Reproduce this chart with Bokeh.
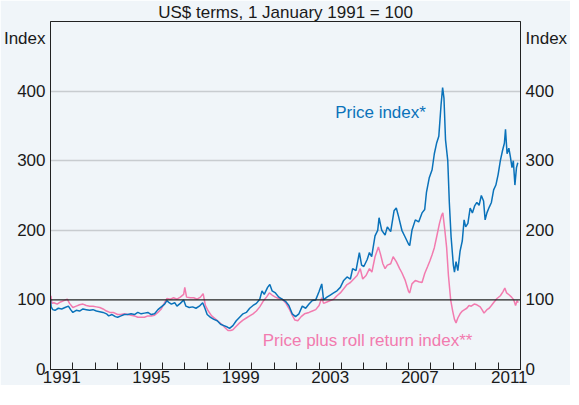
from bokeh.plotting import figure
from bokeh.models import FixedTicker, LinearAxis, Span, Label, Range1d
from bokeh.embed import file_html
from bokeh.resources import INLINE

# ---- data (decimal years, index values) ----
price_t = [1991.00, 1991.03, 1991.10, 1991.20, 1991.35, 1991.50, 1991.65, 1991.80, 1991.90,
           1992.00, 1992.15, 1992.30, 1992.45, 1992.60, 1992.75, 1992.90, 1993.05, 1993.20,
           1993.35, 1993.50, 1993.60, 1993.75, 1993.90, 1994.00, 1994.15, 1994.30, 1994.45,
           1994.60, 1994.75, 1994.90, 1995.05, 1995.20, 1995.35, 1995.50, 1995.65, 1995.80,
           1995.95, 1996.10, 1996.20, 1996.30, 1996.40, 1996.55, 1996.65, 1996.80, 1996.95,
           1997.05, 1997.20, 1997.35, 1997.50, 1997.65, 1997.80, 1997.90, 1998.00, 1998.15,
           1998.30, 1998.45, 1998.60, 1998.75, 1998.90, 1999.00, 1999.15, 1999.30, 1999.45,
           1999.60, 1999.75, 1999.90, 2000.05, 2000.20, 2000.35, 2000.45, 2000.55, 2000.70,
           2000.80, 2000.90, 2001.05, 2001.20, 2001.35, 2001.50, 2001.65, 2001.80, 2001.95,
           2002.10, 2002.25, 2002.40, 2002.55, 2002.70, 2002.85, 2003.00, 2003.12, 2003.20,
           2003.35, 2003.50, 2003.65, 2003.80, 2003.95, 2004.10, 2004.25, 2004.40, 2004.50,
           2004.65, 2004.80, 2004.90, 2005.00, 2005.15, 2005.25, 2005.35, 2005.50, 2005.62,
           2005.68, 2005.80, 2005.95, 2006.05, 2006.20, 2006.35, 2006.45, 2006.55, 2006.70,
           2006.85, 2007.00, 2007.05, 2007.15, 2007.30, 2007.45, 2007.60, 2007.72, 2007.80,
           2007.92, 2008.05, 2008.15, 2008.25, 2008.35, 2008.45, 2008.52, 2008.58, 2008.65,
           2008.75, 2008.82, 2008.90, 2009.00, 2009.05, 2009.12, 2009.20, 2009.30, 2009.40,
           2009.48, 2009.55, 2009.65, 2009.75, 2009.85, 2009.95, 2010.05, 2010.15, 2010.25,
           2010.35, 2010.42, 2010.50, 2010.60, 2010.70, 2010.80, 2010.90, 2011.00, 2011.10,
           2011.20, 2011.28, 2011.33, 2011.40, 2011.48, 2011.55, 2011.62, 2011.68, 2011.75,
           2011.82, 2011.88]
price_v = [100, 90, 86, 85, 88, 87, 89, 91, 86,
           82, 85, 84, 87, 86, 85, 86, 84, 83,
           82, 80, 77, 79, 76, 75, 77, 79, 79,
           80, 79, 82, 80, 81, 82, 79, 80, 86,
           90, 94, 99, 96, 94, 96, 91, 95, 100,
           91, 89, 90, 88, 91, 96, 88, 79, 75,
           72, 70, 65, 63, 61, 59, 63, 70, 75,
           80, 82, 88, 92, 95, 101, 113, 108, 118,
           122, 113, 110, 104, 101, 98, 92, 80, 76,
           80, 91, 88, 94, 99, 100, 112, 123, 100,
           104, 107, 110, 113, 118, 128, 133, 130, 145,
           142, 168, 150, 148, 158, 168, 162, 192, 200,
           218, 200, 193, 205, 198, 228, 232, 220, 200,
           190, 180, 178, 200, 215, 212, 225, 230, 255,
           275, 287, 310, 325, 335, 380, 405, 390, 330,
           300, 240, 190, 150, 140, 155, 142, 170, 185,
           215, 205, 210, 232, 225, 235, 240, 236, 250,
           242, 215, 225, 233, 240, 258, 265, 280, 300,
           315, 325, 345, 310, 318, 305, 290, 300, 265,
           290, 297]

roll_t = [1991.00, 1991.02, 1991.06, 1991.15, 1991.30, 1991.45, 1991.60, 1991.75, 1991.85,
          1992.00, 1992.15, 1992.30, 1992.45, 1992.60, 1992.75, 1992.90, 1993.05, 1993.20,
          1993.35, 1993.50, 1993.65, 1993.80, 1994.00, 1994.15, 1994.30, 1994.45, 1994.60,
          1994.75, 1994.90, 1995.05, 1995.20, 1995.35, 1995.50, 1995.65, 1995.80, 1995.95,
          1996.10, 1996.20, 1996.35, 1996.50, 1996.65, 1996.80, 1996.95, 1997.00, 1997.08,
          1997.25, 1997.40, 1997.55, 1997.70, 1997.82, 1997.92, 1998.05, 1998.20, 1998.35,
          1998.50, 1998.65, 1998.80, 1998.93, 1999.05, 1999.15, 1999.30, 1999.45, 1999.60,
          1999.75, 1999.90, 2000.05, 2000.20, 2000.35, 2000.50, 2000.65, 2000.78, 2000.90,
          2001.05, 2001.20, 2001.35, 2001.50, 2001.65, 2001.80, 2001.92, 2002.05, 2002.20,
          2002.35, 2002.55, 2002.70, 2002.85, 2003.00, 2003.12, 2003.20, 2003.35, 2003.50,
          2003.65, 2003.80, 2003.95, 2004.10, 2004.25, 2004.40, 2004.55, 2004.70, 2004.84,
          2004.95, 2005.10, 2005.25, 2005.36, 2005.50, 2005.65, 2005.75, 2005.85, 2005.95,
          2006.05, 2006.20, 2006.31, 2006.45, 2006.60, 2006.70, 2006.85, 2007.00, 2007.05,
          2007.15, 2007.30, 2007.45, 2007.60, 2007.72, 2007.85, 2007.95, 2008.05, 2008.15,
          2008.25, 2008.38, 2008.48, 2008.53, 2008.62, 2008.70, 2008.78, 2008.88, 2008.97,
          2009.05, 2009.12, 2009.20, 2009.30, 2009.40, 2009.50, 2009.60, 2009.70, 2009.80,
          2009.93, 2010.05, 2010.20, 2010.30, 2010.37, 2010.50, 2010.60, 2010.70, 2010.82,
          2010.95, 2011.10, 2011.22, 2011.30, 2011.38, 2011.50, 2011.60, 2011.70, 2011.78,
          2011.85, 2011.90]
roll_v = [100, 106, 95, 96, 94, 97, 99, 101, 95,
          89, 91, 93, 94, 92, 91, 91, 90, 89,
          87, 84, 82, 82, 79, 79, 80, 79, 78,
          77, 75, 75, 75, 77, 77, 78, 82, 87,
          96, 102, 101, 103, 101, 104, 108, 118, 104,
          103, 103, 101, 104, 109, 92, 84, 77, 73,
          69, 65, 60, 56, 56, 57, 62, 67, 71,
          74, 77, 80, 84, 90, 98, 104, 110, 107,
          104, 102, 101, 96, 88, 78, 71, 70, 76,
          80, 82, 84, 86, 92, 103, 95, 97, 99,
          101, 106, 110, 116, 122, 125, 130, 135, 145,
          130, 135, 145, 140, 162, 176, 165, 152, 145,
          150, 152, 162, 155, 145, 139, 128, 112, 110,
          123, 128, 126, 125, 138, 148, 156, 165, 175,
          190, 210, 222, 225, 200, 175, 135, 100, 84,
          72, 67, 74, 80, 84, 86, 88, 92, 91,
          94, 93, 90, 85, 81, 86, 88, 92, 97,
          102, 106, 112, 117, 110, 107, 104, 100, 92,
          99, 96]

year_labels = ["1991", "1995", "1999", "2003", "2007", "2011"]
y_ticks = [0, 100, 200, 300, 400]

BG = "#F0F5F9"
BLUE = "#0A72BA"
PINK = "#F27BAF"
FONT = "Liberation Sans"

p = figure(frame_width=470, frame_height=348, output_backend="svg", toolbar_location=None,
           x_range=Range1d(1991, 2012), y_range=Range1d(0, 500),
           min_border_left=46, min_border_right=0, min_border_top=20, min_border_bottom=0,
           background_fill_color=BG, border_fill_color=BG)

p.title.text = "US$ terms, 1 January 1991 = 100"
p.title.align = "center"
p.title.text_font = FONT
p.title.text_font_size = "17px"
p.title.text_font_style = "normal"
p.title.text_color = "#1a1a1a"
p.title.standoff = 0
p.title.offset = 0

p.outline_line_color = "#222222"
p.outline_line_width = 1

# grid
p.xgrid.visible = False
p.ygrid.ticker = FixedTicker(ticks=[200, 300, 400])
p.ygrid.grid_line_color = "#C8CCD0"
p.ygrid.grid_line_width = 1.5
p.add_layout(Span(location=100, dimension="width", line_color="#222222", line_width=1.2))

# lines
p.line(roll_t, roll_v, line_color=PINK, line_width=1.5)
p.line(price_t, price_v, line_color=BLUE, line_width=1.5)

# x axis
label_pos = [int(s) + 0.5 for s in year_labels]
years = list(range(int(year_labels[0]), int(year_labels[-1]) + 2))
xa = p.xaxis[0]
xa.ticker = FixedTicker(ticks=label_pos, minor_ticks=years)
xa.major_label_overrides = {pos: s for pos, s in zip(label_pos, year_labels)}
xa.major_tick_line_color = None
xa.major_tick_in = 0
xa.major_tick_out = 0
xa.minor_tick_in = 7
xa.minor_tick_out = 0
xa.minor_tick_line_color = "#222222"
xa.axis_line_color = "#222222"
xa.major_label_text_font = FONT
xa.major_label_text_font_size = "17px"
xa.major_label_text_color = "#1a1a1a"
xa.major_label_standoff = 1

# y axes
idx_pos = 476
def style_y(ax):
    ax.ticker = FixedTicker(ticks=y_ticks + [idx_pos])
    ax.major_label_overrides = {idx_pos: "Index"}
    ax.major_tick_line_color = None
    ax.major_tick_in = 0
    ax.major_tick_out = 0
    ax.minor_tick_line_color = None
    ax.minor_tick_in = 0
    ax.minor_tick_out = 0
    ax.axis_line_color = "#222222"
    ax.major_label_text_font = FONT
    ax.major_label_text_font_size = "17px"
    ax.major_label_text_color = "#1a1a1a"
    ax.major_label_standoff = 5

style_y(p.yaxis[0])
ry = LinearAxis()
style_y(ry)
p.add_layout(ry, "right")

p.add_layout(Label(x=2003.72, y=369, text="Price index*", text_color=BLUE,
                   text_font=FONT, text_font_size="17px", text_baseline="middle"))
p.add_layout(Label(x=2000.48, y=42, text="Price plus roll return index**", text_color=PINK,
                   text_font=FONT, text_font_size="17px", text_baseline="middle"))

open("out.html", "w").write(file_html(p, INLINE))
